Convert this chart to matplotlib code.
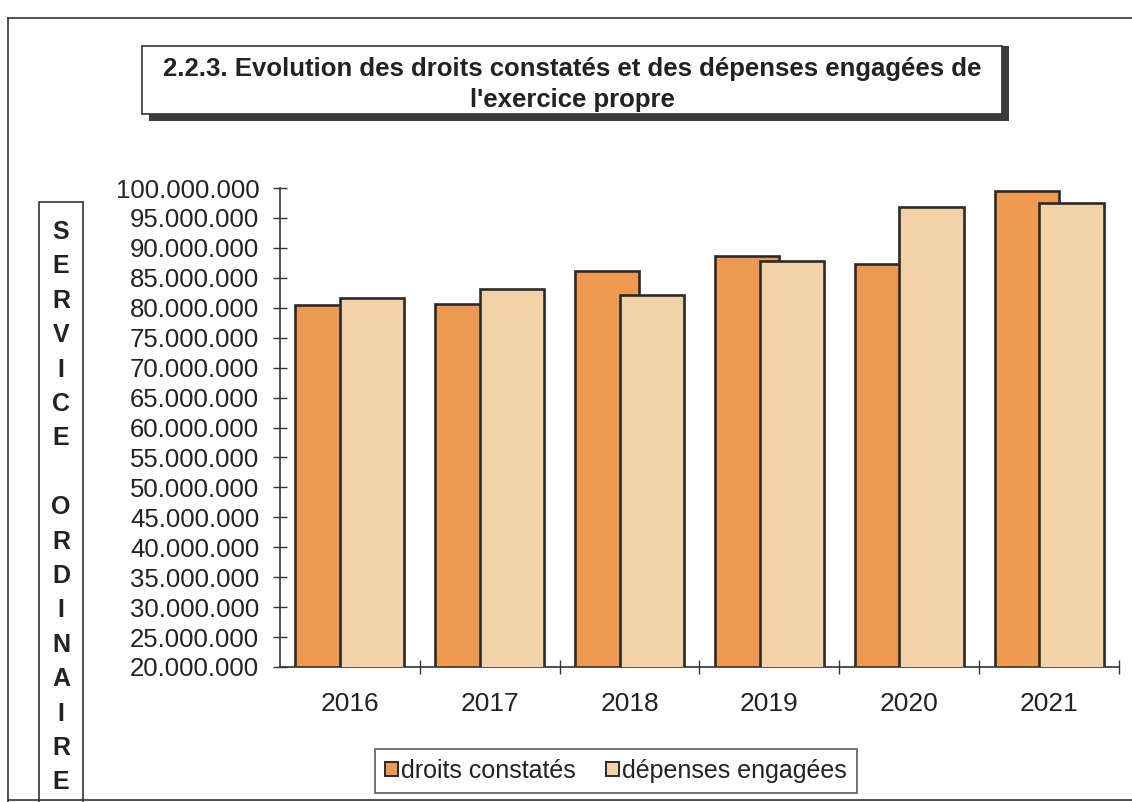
import matplotlib.pyplot as plt
import matplotlib.patches as mpatches
from matplotlib.lines import Line2D
from matplotlib.ticker import FuncFormatter, MultipleLocator, FixedLocator
import numpy as np

years = ["2016", "2017", "2018", "2019", "2020", "2021"]
droits = [80.5e6, 80.6e6, 86.1e6, 88.6e6, 87.3e6, 99.5e6]
depenses = [81.7e6, 83.2e6, 82.1e6, 87.8e6, 96.9e6, 97.5e6]
series_names = ["droits constatés", "dépenses engagées"]
side_letters = "SERVICE ORDINAIRE"

c_droits = "#EE9A52"
c_dep = "#F2D2A6"
edge = "#2a2a2a"

plt.rcParams["font.family"] = ["Liberation Sans", "DejaVu Sans"]

W, H = 1132, 802
fig = plt.figure(figsize=(W / 100, H / 100), dpi=100)


def fx(px):
    return px / W


def fy(py):
    return 1 - py / H


ax = fig.add_axes([fx(280), fy(667), fx(1119) - fx(280), fy(188) - fy(667)])

x = np.arange(len(years))
width = 0.46
ax.bar(x - 0.16, droits, width, color=c_droits, edgecolor=edge, linewidth=1.9, zorder=2)
ax.bar(x + 0.16, depenses, width, color=c_dep, edgecolor=edge, linewidth=1.9, zorder=3)

ax.set_xlim(-0.5, len(years) - 0.5)
ax.set_ylim(20e6, 100e6)
ax.yaxis.set_major_locator(MultipleLocator(5e6))
ax.yaxis.set_major_formatter(FuncFormatter(lambda v, p: f"{v:,.0f}".replace(",", ".")))
ax.tick_params(axis="y", direction="inout", length=10, width=1, color="#333333",
               labelsize=18.5, labelcolor="#222222", pad=10)

ax.set_xticks(x)
ax.set_xticklabels(years)
ax.xaxis.set_minor_locator(FixedLocator(np.arange(0.5, len(years), 1.0)))
ax.tick_params(axis="x", which="major", length=0, labelsize=19, labelcolor="#222222", pad=18)
ax.tick_params(axis="x", which="minor", direction="inout", length=10, width=1, color="#333333")

for s in ["top", "right"]:
    ax.spines[s].set_visible(False)
for s in ["left", "bottom"]:
    ax.spines[s].set_color("#333333")
    ax.spines[s].set_linewidth(1.2)
ax.set_facecolor("none")

# outer frame
fig.add_artist(Line2D([fx(8), fx(8)], [fy(18), fy(802)], color="#333333", lw=1.2))
fig.add_artist(Line2D([fx(8), fx(1132)], [fy(18), fy(18)], color="#333333", lw=1.2))
fig.add_artist(Line2D([fx(8), fx(1132)], [fy(800), fy(800)], color="#333333", lw=1.2))

# title box with shadow
fig.add_artist(mpatches.Rectangle((fx(149), fy(121)), fx(1009) - fx(149), fy(46) - fy(121),
                                  transform=fig.transFigure, facecolor="#3a3a3a", edgecolor="none"))
fig.add_artist(mpatches.Rectangle((fx(142), fy(114)), fx(1002) - fx(142), fy(46) - fy(114),
                                  transform=fig.transFigure, facecolor="white", edgecolor="#333333", lw=1.2))
fig.text(fx(572), fy(69), "2.2.3. Evolution des droits constatés et des dépenses engagées de",
         ha="center", va="center", fontsize=18.5, fontweight="bold", color="#222222")
fig.text(fx(572), fy(100), "l'exercice propre",
         ha="center", va="center", fontsize=18.5, fontweight="bold", color="#222222")

# vertical side label box
fig.add_artist(mpatches.Rectangle((fx(39), fy(810)), fx(83) - fx(39), fy(202) - fy(810),
                                  transform=fig.transFigure, facecolor="white", edgecolor="#333333", lw=1.2))
for i, ch in enumerate(side_letters):
    if ch == " ":
        continue
    fig.text(fx(61), fy(232 + i * 34.4), ch, ha="center", va="center",
             fontsize=18, fontweight="bold", color="#222222")

# legend
handles = [mpatches.Patch(facecolor=c_droits, edgecolor=edge, lw=1.4),
           mpatches.Patch(facecolor=c_dep, edgecolor=edge, lw=1.4)]
leg = fig.legend(handles, series_names, loc="center", bbox_to_anchor=(fx(616), fy(771)),
                 ncol=2, fontsize=18, frameon=True, fancybox=False, handlelength=0.5,
                 handleheight=0.5, handletextpad=0.15, columnspacing=1.2, borderpad=0.4)
leg.get_frame().set_edgecolor("#333333")
leg.get_frame().set_linewidth(1.2)
for t in leg.get_texts():
    t.set_color("#222222")

fig.savefig("out.png", dpi=100)
